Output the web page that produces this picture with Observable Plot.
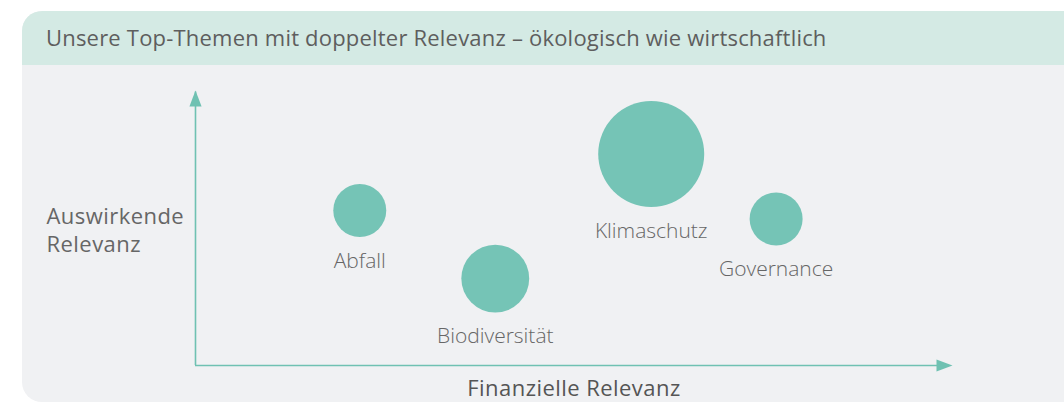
<!DOCTYPE html>
<html>
<head>
<meta charset="utf-8">
<script src="https://cdn.jsdelivr.net/npm/d3@7"></script>
<script src="https://cdn.jsdelivr.net/npm/@observablehq/plot@0.6"></script>
<style>
  html, body { margin: 0; padding: 0; background: #ffffff; width: 1064px; height: 403px; overflow: hidden; position: relative; font-family: "Open Sans", "Noto Sans", sans-serif; }
  #panel { position: absolute; left: 22px; top: 11px; width: 1100px; height: 391px; background: #f0f1f3; border-radius: 20px 0 0 20px; overflow: hidden; }
  #header { position: absolute; left: 0; top: 0; width: 100%; height: 54px; background: #d4eae4; }
  #title { position: absolute; left: 24px; top: 13px; font-size: 22px; letter-spacing: 0.2px; color: #5e5e5e; white-space: nowrap; line-height: 27px; }
  #chart { position: absolute; left: 0; top: 65px; }
</style>
</head>
<body>
<div id="panel"><div id="header"><div id="title">Unsere Top-Themen mit doppelter Relevanz – ökologisch wie wirtschaftlich</div></div></div>
<div id="chart"></div>
<script>
// Data
const themes = ["Abfall", "Biodiversität", "Klimaschutz", "Governance"];
const finanziell = [2.17, 3.96, 6.02, 7.67];   // x: Finanzielle Relevanz
const auswirkend = [5.64, 3.16, 7.69, 5.33];   // y: Auswirkende Relevanz
const gewicht = [2.5, 4.1, 10, 2.5];           // bubble size
const xLabel = "Finanzielle Relevanz";
const yLabel = "Auswirkende\nRelevanz";

const data = themes.map((t, i) => ({theme: t, x: finanziell[i], y: auswirkend[i], size: gewicht[i]}));

const teal = "#75c4b6";
const axisColor = "#6fc1b2";
const rRange = [0, 53];
const rDomain = [0, 10];
const rScale = d3.scaleSqrt().domain(rDomain).range(rRange);

// filled, slightly elongated arrowhead; tip at the anchor point, pointing up
const arrowHead = {
  draw(context, size) {
    const r = Math.sqrt(size / Math.PI);
    const w = r * 0.38;
    context.moveTo(0, 0);
    context.lineTo(w, r);
    context.lineTo(-w, r);
    context.closePath();
  }
};

const labelMarks = data.map(d => Plot.text([d], {
  x: "x", y: "y", text: "theme",
  dy: rScale(d.size) + 24,
  lineAnchor: "middle",
  fontSize: 21, fontWeight: 300, fill: "#666666",
  fontFamily: "'Open Sans', 'Noto Sans', sans-serif"
}));

const chart = Plot.plot({
  width: 1064,
  height: 338,
  marginLeft: 195,
  marginRight: 112,
  marginTop: 25,
  marginBottom: 38,
  style: {background: "transparent", fontFamily: "'Open Sans', 'Noto Sans', sans-serif", overflow: "visible"},
  x: {domain: [0, 10], axis: null},
  y: {domain: [0, 10], axis: null},
  r: {domain: rDomain, range: rRange},
  marks: [
    Plot.ruleY([0], {x1: 0, x2: 9.95, stroke: axisColor, strokeWidth: 1.6}),
    Plot.ruleX([0], {y1: 0, y2: 9.95, stroke: axisColor, strokeWidth: 1.6}),
    Plot.dot([{x: 10, y: 0}], {x: "x", y: "y", symbol: arrowHead, r: 16, fill: axisColor, stroke: null, rotate: 90}),
    Plot.dot([{x: 0, y: 10}], {x: "x", y: "y", symbol: arrowHead, r: 16, fill: axisColor, stroke: null, rotate: 0}),
    Plot.dot(data, {x: "x", y: "y", r: "size", fill: teal, stroke: null}),
    ...labelMarks,
    Plot.text([xLabel], {frameAnchor: "bottom", text: d => d, dy: 23, lineAnchor: "middle", fontSize: 22, fill: "#555555"}),
    Plot.text([yLabel], {frameAnchor: "top-left", text: d => d, dx: -149, dy: 113, lineAnchor: "top", textAnchor: "start", lineHeight: 1.3, fontSize: 22, fill: "#666666"})
  ]
});
// letter spacing for the axis labels (as in the reference's typeface)
d3.select(chart).selectAll("text").filter(function() { return this.textContent === xLabel || this.textContent.startsWith("Auswirkende"); }).style("letter-spacing", "0.45px");
document.getElementById("chart").appendChild(chart);
</script>
</body>
</html>
